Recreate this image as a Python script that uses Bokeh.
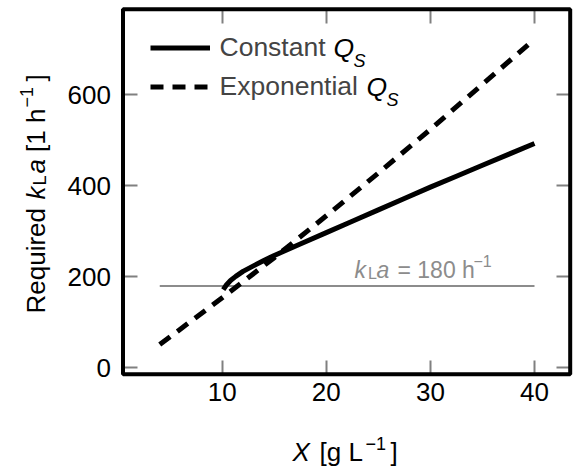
import math
from bokeh.plotting import figure
from bokeh.models import (Range1d, FixedTicker, LinearAxis, Label, Legend, LegendItem,
                          BoxAnnotation)
from bokeh.embed import file_html
from bokeh.resources import INLINE

# ---- data ----
x_const = [10.1, 10.4, 10.8, 11.3, 12, 13, 14, 15, 17.5, 20, 22.5, 25, 27.5, 30, 32.5, 35, 37.5, 40]
kla_const = [172, 182, 192, 201, 212, 224, 236, 247, 272, 297, 322, 347, 372, 397, 421, 445, 469, 493]
x_exp = [4, 10, 15, 20, 25, 30, 35, 40]
kla_exp = [51, 154, 242, 334, 428, 524, 623, 722]
thr_x = [4, 40]
thr_kla = [180, 180]
x_ticks = [10, 20, 30, 40]
y_ticks = [0, 200, 400, 600]
series_labels = ["Constant", "Exponential"]

# ---- layout ----
FONT = "Liberation Sans"
W, H = 573, 466
BX0, BX1 = 0.47, 43.43          # axes box limits (x)
BY0, BY1 = -14, 788             # axes box limits (y)
PL, PR, PT, PB = 122.5, 569.7, 8.7, 373.7   # axes box in pixels
SX = (PR - PL) / (BX1 - BX0)
SY = (PB - PT) / (BY1 - BY0)
XR0, XR1 = BX0 - PL / SX, BX1 + (W - PR) / SX
YR0, YR1 = BY0 - (H - PB) / SY, BY1 + PT / SY


def dx(px):
    return BX0 + (px - PL) / SX


def dy(py):
    return BY0 + (PB - py) / SY


p = figure(width=W, height=H, x_range=Range1d(XR0, XR1), y_range=Range1d(YR0, YR1),
           output_backend="svg", toolbar_location=None,
           min_border_left=0, min_border_right=0, min_border_top=0, min_border_bottom=0)
p.background_fill_color = "white"
p.border_fill_color = "white"
p.outline_line_color = None
p.xgrid.visible = False
p.ygrid.visible = False

TICK = "#808080"


def style_axis(ax, ticks, loc, show_labels, standoff):
    ax.ticker = FixedTicker(ticks=ticks)
    ax.fixed_location = loc
    ax.axis_line_color = None
    ax.major_tick_in = 14
    ax.major_tick_out = 0
    ax.major_tick_line_color = TICK
    ax.major_tick_line_width = 2
    ax.minor_tick_line_color = None
    ax.major_label_standoff = standoff
    if show_labels:
        ax.major_label_text_font = FONT
        ax.major_label_text_font_size = "26px"
        ax.major_label_text_color = "black"
    else:
        ax.major_label_text_font_size = "0px"
        ax.major_label_text_color = None


style_axis(p.xaxis[0], x_ticks, BY0, True, 9)
style_axis(p.yaxis[0], y_ticks, BX0, True, 12)
top = LinearAxis()
style_axis(top, x_ticks, BY1, False, 0)
right = LinearAxis()
style_axis(right, y_ticks, BX1, False, 0)
p.add_layout(top, "above")
p.add_layout(right, "right")

# axes box
p.add_layout(BoxAnnotation(left=BX0, right=BX1, bottom=BY0, top=BY1,
                           fill_alpha=0, line_color="black", line_alpha=1.0,
                           line_width=4))

# ---- glyphs ----
p.line(thr_x, thr_kla, line_color="#8c8c8c", line_width=2)
r1 = p.line(x_const, kla_const, line_color="black", line_width=5, line_join="round")
r2 = p.line(x_exp, kla_exp, line_color="black", line_width=5, line_dash="13 9")

legend = Legend(items=[LegendItem(label=series_labels[0], renderers=[r1]),
                       LegendItem(label=series_labels[1], renderers=[r2])],
                location=(149.5, H - 28 - 78), margin=0, padding=0, spacing=0,
                glyph_width=60, glyph_height=39, label_height=39, label_standoff=10,
                border_line_color=None, background_fill_alpha=0,
                label_text_font=FONT, label_text_font_size="26.5px")
p.add_layout(legend)


def lab(text, px, py, size, italic=False, color="black", angle=0.0, baseline="alphabetic"):
    p.add_layout(Label(x=dx(px), y=dy(py), text=text, text_font=FONT,
                       text_font_size=f"{size}px",
                       text_font_style="italic" if italic else "normal",
                       text_color=color, angle=angle, text_align="left",
                       text_baseline=baseline))


# legend Q_S parts
lab("Q", 333, 47.5, 26.5, italic=True, baseline="middle")
lab("S", 353, 60, 18, italic=True)
lab("Q", 366, 86.5, 26.5, italic=True, baseline="middle")
lab("S", 386, 99, 18, italic=True)

# x axis label: X [g L^-1]
lab("X", 292, 451, 26, italic=True)
lab("[g L", 319, 451, 26)
lab("\u22121", 365, 443, 18)
lab("]", 390, 451, 26)

# y axis label: Required k_L a [1 h^-1]  (rotated)
A = math.pi / 2
lab("Required", 35, 313, 26, angle=A)
lab("k", 35, 199, 26, italic=True, angle=A)
lab("L", 39, 185, 18, angle=A)
lab("a", 35, 173, 26, italic=True, angle=A)
lab("[1 h", 35, 151.5, 26, angle=A)
lab("\u22121", 26, 107, 18, angle=A)
lab("]", 35, 81, 26, angle=A)

# annotation: k_L a = 180 h^-1
G = "#8c8c8c"
lab("k", 354, 269, 23, italic=True, color=G)
lab("L", 367.5, 273, 16, color=G)
lab("a", 376, 269, 23, italic=True, color=G)
lab("= 180 h", 397, 269, 23, color=G)
lab("\u22121", 473, 260, 16, color=G)

open("out.html", "w").write(file_html(p, INLINE))
